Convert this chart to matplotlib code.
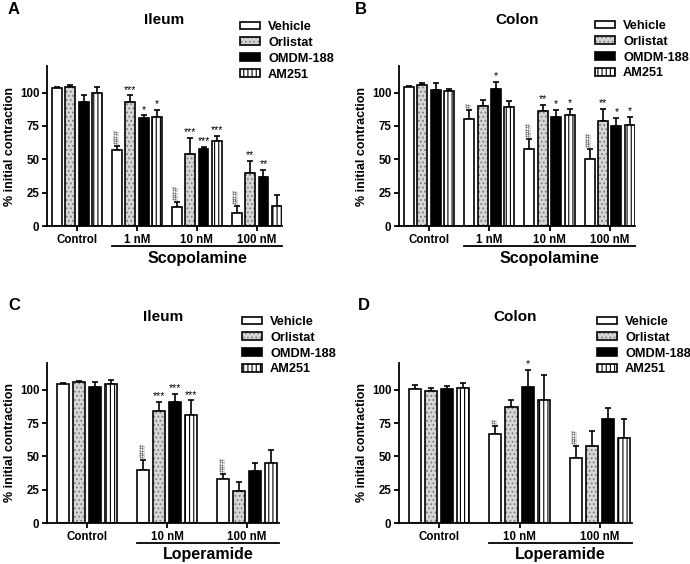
import matplotlib
matplotlib.use("Agg")
import matplotlib.pyplot as plt
import numpy as np
from matplotlib.patches import Patch
from matplotlib.legend_handler import HandlerTuple

plt.rcParams["font.family"] = ["Liberation Sans", "DejaVu Sans"]
plt.rcParams["font.weight"] = "bold"
plt.rcParams["hatch.linewidth"] = 0.8

series = ["Vehicle", "Orlistat", "OMDM-188", "AM251"]
scop_groups = ["Control", "1 nM", "10 nM", "100 nM"]
lop_groups = ["Control", "10 nM", "100 nM"]

# rows = groups, columns = series (Vehicle, Orlistat, OMDM-188, AM251)
ileum_scop_mean = [[103.5, 104, 93, 100], [57, 93, 81, 82], [14, 54, 58, 64], [10, 40, 37, 15]]
ileum_scop_err = [[1, 2, 5, 4], [3, 5, 2, 5], [4, 12, 1.5, 3.5], [5, 9, 5, 8]]
ileum_scop_marks = [["", "", "", ""], ["###", "***", "*", "*"],
                    ["###", "***", "***", "***"], ["###", "**", "**", ""]]

colon_scop_mean = [[104, 106, 102, 101], [80, 90, 103, 89], [58, 86, 82, 83], [50, 79, 75, 76]]
colon_scop_err = [[1, 1.5, 5, 1.5], [7, 4.5, 5, 5], [7, 5, 5, 5], [8, 9, 6, 6]]
colon_scop_marks = [["", "", "", ""], ["#", "", "*", ""],
                    ["###", "**", "*", "*"], ["###", "**", "*", "*"]]

ileum_lop_mean = [[104, 106, 102, 104], [40, 84, 91, 81], [33, 24, 39, 45]]
ileum_lop_err = [[1, 0.5, 4, 3.5], [7, 7, 6, 11], [4, 7, 6, 10]]
ileum_lop_marks = [["", "", "", ""], ["###", "***", "***", "***"], ["###", "", "", ""]]

colon_lop_mean = [[100.5, 99, 100.5, 101.5], [67, 87, 102, 92], [49, 58, 78, 64]]
colon_lop_err = [[3, 2.5, 2.5, 3.5], [6, 5.5, 13, 19], [9, 11, 8, 14]]
colon_lop_marks = [["", "", "", ""], ["#", "", "*", ""], ["###", "", "", ""]]

W, H = 690, 564


def fx(px):
    return px / W


def fy(py):
    return 1 - py / H


def draw_panel(rect, letter, letter_xy, title, groups, means, errs, marks,
               drug, spacing, width, xmax, legend_xy):
    left, right, top, bottom = rect
    ax = fig.add_axes([fx(left), fy(bottom), fx(right - left), fy(top) - fy(bottom)])
    means = np.array(means, dtype=float)
    errs = np.array(errs, dtype=float)
    gx = np.arange(len(groups))
    handles = []
    for i, name in enumerate(series):
        x = gx + (i - 1.5) * spacing
        v = means[:, i]
        e = errs[:, i]
        ax.errorbar(x, v, yerr=[np.zeros_like(e), e], fmt="none", ecolor="black",
                    elinewidth=1.2, capsize=2.2, capthick=1.2, zorder=1)
        if name == "Vehicle":
            ax.bar(x, v, width, color="white", edgecolor="black", linewidth=1.2, zorder=2)
            h = Patch(facecolor="white", edgecolor="black", linewidth=1.2)
        elif name == "Orlistat":
            ax.bar(x, v, width, color="#d6d6d6", edgecolor="#808080", hatch="....",
                   linewidth=0, zorder=2)
            ax.bar(x, v, width, fill=False, edgecolor="black", linewidth=1.2, zorder=3)
            h = (Patch(facecolor="#d6d6d6", edgecolor="#808080", hatch="....", linewidth=0),
                 Patch(fill=False, edgecolor="black", linewidth=1.2))
        elif name == "OMDM-188":
            ax.bar(x, v, width, color="black", edgecolor="black", linewidth=1.2, zorder=2)
            h = Patch(facecolor="black", edgecolor="black", linewidth=1.2)
        else:
            ax.bar(x, v, width, color="white", edgecolor="black", hatch="||||",
                   linewidth=1.2, zorder=2)
            h = Patch(facecolor="white", edgecolor="black", hatch="||||", linewidth=1.2)
        handles.append(h)
        for g in range(len(groups)):
            m = marks[g][i]
            if not m:
                continue
            ytop = v[g] + e[g]
            if m.startswith("#"):
                ax.text(x[g], ytop + 1.5, m, rotation=90, ha="center", va="bottom",
                        fontsize=6.5, color="#444444", fontweight="normal")
            else:
                ax.text(x[g], ytop + 0.5, m, ha="center", va="bottom", fontsize=7.5,
                        fontweight="normal")

    ax.set_xlim(-0.5, xmax)
    ax.set_ylim(0, 120)
    ax.set_yticks([0, 25, 50, 75, 100])
    ax.set_xticks(gx)
    ax.set_xticklabels(groups)
    for s in ["top", "right"]:
        ax.spines[s].set_visible(False)
    for s in ["left", "bottom"]:
        ax.spines[s].set_linewidth(1.3)
    ax.tick_params(axis="both", labelsize=8.3, width=1.3, length=3.5, pad=2)
    ax.set_ylabel("% initial contraction", fontsize=9, fontweight="bold", labelpad=3)

    x0 = 1 - 1.5 * spacing - width / 2
    ax.plot([x0, xmax], [-0.125, -0.125], color="black", lw=1.3,
            transform=ax.get_xaxis_transform(), clip_on=False)
    ax.text((x0 + xmax) / 2, -0.2, drug, transform=ax.get_xaxis_transform(),
            ha="center", va="center", fontsize=11.5, fontweight="bold")

    ax.text(0.5, 1.29, title, transform=ax.transAxes, ha="center", va="center",
            fontsize=11, fontweight="bold")
    fig.text(fx(letter_xy[0]), fy(letter_xy[1]), letter, ha="left", va="center",
             fontsize=12, fontweight="bold")

    ax.legend(handles, series, loc="upper left",
              bbox_to_anchor=(fx(legend_xy[0]), fy(legend_xy[1])),
              bbox_transform=fig.transFigure, frameon=False, fontsize=9.2,
              handlelength=1.6, handleheight=0.55, handletextpad=0.6,
              labelspacing=0.3, borderpad=0, borderaxespad=0,
              handler_map={tuple: HandlerTuple(ndivide=1, pad=0)})
    return ax


fig = plt.figure(figsize=(6.9, 5.64), dpi=100)

draw_panel((47, 282, 66, 226), "A", (8, 10), "Ileum", scop_groups,
           ileum_scop_mean, ileum_scop_err, ileum_scop_marks, "Scopolamine",
           0.222, 0.165, 3.42, (240, 21))
draw_panel((399, 635, 66, 226), "B", (355, 10), "Colon", scop_groups,
           colon_scop_mean, colon_scop_err, colon_scop_marks, "Scopolamine",
           0.222, 0.165, 3.42, (595, 20))
draw_panel((47, 279, 363, 523), "C", (8, 305), "Ileum", lop_groups,
           ileum_lop_mean, ileum_lop_err, ileum_lop_marks, "Loperamide",
           0.2, 0.15, 2.4, (242, 316))
draw_panel((399, 632, 363, 523), "D", (358, 305), "Colon", lop_groups,
           colon_lop_mean, colon_lop_err, colon_lop_marks, "Loperamide",
           0.2, 0.15, 2.4, (597, 316))

fig.savefig("out.png", dpi=100, facecolor="white")
